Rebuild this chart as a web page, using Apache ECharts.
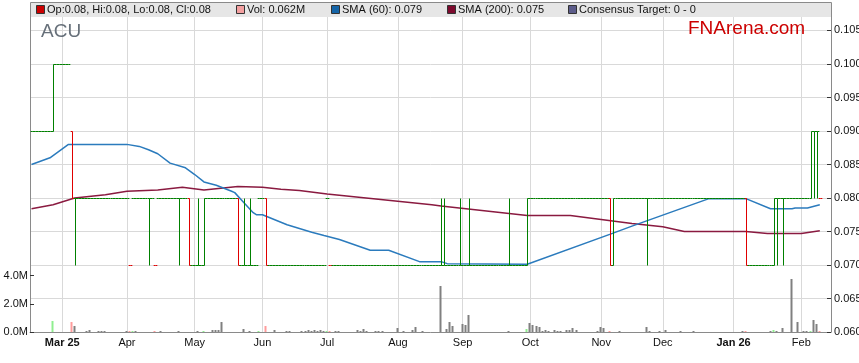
<!DOCTYPE html>
<html><head><meta charset="utf-8">
<script src="https://cdn.jsdelivr.net/npm/echarts@6/dist/echarts.min.js"></script>
<style>html,body{margin:0;padding:0;background:#fff}#c{width:859px;height:363px}</style>
</head><body><div id="c"></div>
<script>
// ---------- DATA ----------
// trading-day calendar (weekdays) starting Mon 17 Feb 2025
const firstDay = [2025, 1, 17];
const dayCount = 260;
const dates = [];
(function () {
  const d = new Date(Date.UTC(firstDay[0], firstDay[1], firstDay[2]));
  while (dates.length < dayCount) {
    const w = d.getUTCDay();
    if (w > 0 && w < 6) dates.push(d.toISOString().slice(0, 10));
    d.setUTCDate(d.getUTCDate() + 1);
  }
})();

const monthLabels = ['Mar 25', 'Apr', 'May', 'Jun', 'Jul', 'Aug', 'Sep', 'Oct', 'Nov', 'Dec', 'Jan 26', 'Feb'];
const boldLabels = ['Mar 25', 'Jan 26'];
const priceTicks = [0.060, 0.065, 0.070, 0.075, 0.080, 0.085, 0.090, 0.095, 0.100, 0.105];
const volTicks = [0, 2e6, 4e6];

// daily prices in cents (index = trading day)
const openCents = [
  9,9,9,9,9,9,9,9,10,10, 10,10,10,9,8,8,8,8,8,8, 8,8,8,8,8,8,8,8,8,8,
  8,8,7,8,8,8,8,8,8,8, 7,8,8,8,8,8,8,8,8,8, 8,8,7,7,7,7,7,8,8,8,
  8,8,8,8,8,8,8,8,7,7, 7,7,7,7,8,8,8,7,7,7, 7,7,7,7,7,7,7,7,7,7,
  7,7,7,7,7,7,8,7,7,7, 7,7,7,7,7,7,7,7,7,7, 7,7,7,7,7,7,7,7,7,7,
  7,7,7,7,7,7,7,7,7,7, 7,7,7,7,7,7,7,7,7,7, 7,7,7,7,7,7,7,7,7,7,
  7,7,7,7,7,7,7,7,7,7, 7,7,8,8,8,8,8,8,8,8, 8,8,8,8,8,8,8,8,8,8,
  8,8,8,8,8,8,8,8,8,7, 8,8,8,8,8,8,8,8,8,8, 8,8,8,8,8,8,8,8,8,8,
  8,8,8,8,8,8,8,8,8,8, 8,8,8,8,8,8,8,8,8,8, 8,8,8,7,7,7,7,7,7,7,
  7,7,8,8,8,8,8,8,8,8, 8,8,8,8,9,9,8
];
const highCents = [
  9,9,9,9,9,9,9,10,10,10, 10,10,10,9,8,8,8,8,8,8, 8,8,8,8,8,8,8,8,8,8,
  8,8,7,8,8,8,8,8,8,8, 7,8,8,8,8,8,8,8,8,8, 8,8,7,7,8,7,8,8,8,8,
  8,8,8,8,8,8,8,8,7,8, 7,8,7,7,8,8,8,7,7,7, 7,7,7,7,7,7,7,7,7,7,
  7,7,7,7,7,7,8,7,7,7, 7,7,7,7,7,7,7,7,7,7, 7,7,7,7,7,7,7,7,7,7,
  7,7,7,7,7,7,7,7,7,7, 7,7,7,8,8,7,7,7,7,8, 7,7,8,7,7,7,7,7,7,7,
  7,7,7,7,7,8,7,7,7,7, 7,8,8,8,8,8,8,8,8,8, 8,8,8,8,8,8,8,8,8,8,
  8,8,8,8,8,8,8,8,8,8, 8,8,8,8,8,8,8,8,8,8, 8,8,8,8,8,8,8,8,8,8,
  8,8,8,8,8,8,8,8,8,8, 8,8,8,8,8,8,8,8,8,8, 8,8,8,7,7,7,7,7,7,7,
  7,8,8,8,8,8,8,8,8,8, 8,8,8,9,9,9,8
];
const lowCents = [
  9,9,9,9,9,9,9,9,10,10, 10,10,10,8,7,8,8,8,8,8, 8,8,8,8,8,8,8,8,8,8,
  8,8,7,8,8,8,8,8,7,8, 7,8,8,8,8,8,8,8,7,8, 8,7,7,7,7,7,7,8,8,8,
  8,8,8,8,8,8,8,7,7,7, 7,7,7,7,8,8,7,7,7,7, 7,7,7,7,7,7,7,7,7,7,
  7,7,7,7,7,7,8,7,7,7, 7,7,7,7,7,7,7,7,7,7, 7,7,7,7,7,7,7,7,7,7,
  7,7,7,7,7,7,7,7,7,7, 7,7,7,7,7,7,7,7,7,7, 7,7,7,7,7,7,7,7,7,7,
  7,7,7,7,7,7,7,7,7,7, 7,7,8,8,8,8,8,8,8,8, 8,8,8,8,8,8,8,8,8,8,
  8,8,8,8,8,8,8,8,7,7, 8,8,8,8,8,8,8,8,8,8, 7,8,8,8,8,8,8,8,8,8,
  8,8,8,8,8,8,8,8,8,8, 8,8,8,8,8,8,8,8,8,8, 8,8,7,7,7,7,7,7,7,7,
  7,7,7,8,7,8,8,8,8,8, 8,8,8,8,8,8,8
];
const closeCents = [
  9,9,9,9,9,9,9,10,10,10, 10,10,10,8,8,8,8,8,8,8, 8,8,8,8,8,8,8,8,8,8,
  8,8,7,8,8,8,8,8,8,8, 7,8,8,8,8,8,8,8,8,8, 8,7,7,7,7,7,8,8,8,8,
  8,8,8,8,8,8,8,7,7,7, 7,7,7,7,8,8,7,7,7,7, 7,7,7,7,7,7,7,7,7,7,
  7,7,7,7,7,7,8,7,7,7, 7,7,7,7,7,7,7,7,7,7, 7,7,7,7,7,7,7,7,7,7,
  7,7,7,7,7,7,7,7,7,7, 7,7,7,7,7,7,7,7,7,7, 7,7,7,7,7,7,7,7,7,7,
  7,7,7,7,7,7,7,7,7,7, 7,8,8,8,8,8,8,8,8,8, 8,8,8,8,8,8,8,8,8,8,
  8,8,8,8,8,8,8,8,7,8, 8,8,8,8,8,8,8,8,8,8, 8,8,8,8,8,8,8,8,8,8,
  8,8,8,8,8,8,8,8,8,8, 8,8,8,8,8,8,8,8,8,8, 8,8,7,7,7,7,7,7,7,7,
  7,8,8,8,8,8,8,8,8,8, 8,8,8,9,9,9,8
];

// volume (millions of shares) on traded days
const volDay = [7,13,14,18,19,22,23,24,31,32,33,34,40,42,48,54,56,59,60,61,62,69,71,74,76,79,83,84,
  88,89,90,91,92,93,94,95,96,97,99,100,106,107,108,109,112,113,114,119,121,124,125,127,
  133,135,136,137,140,141,142,155,161,162,163,164,165,166,167,168,170,171,172,174,175,176,177,
  184,185,186,188,191,200,201,204,206,211,215,231,232,240,241,242,244,247,249,251,252,253,254,255,256];
const volM = [0.80,0.74,0.44,0.08,0.16,0.08,0.08,0.08,0.06,0.05,0.06,0.07,0.06,0.06,0.05,0.07,0.07,0.12,0.14,0.17,0.74,0.22,0.07,0.05,0.44,0.14,0.06,0.06,
  0.07,0.08,0.12,0.10,0.12,0.09,0.12,0.08,0.03,0.05,0.09,0.07,0.14,0.09,0.22,0.08,0.10,0.07,0.10,0.27,0.05,0.14,0.36,0.06,
  3.29,0.22,0.73,0.45,0.60,0.50,1.21,0.04,0.22,0.66,0.50,0.45,0.32,0.10,0.15,0.09,0.15,0.09,0.08,0.14,0.14,0.29,0.12,
  0.07,0.37,0.28,0.05,0.05,0.38,0.06,0.06,0.16,0.05,0.05,0.05,0.05,0.06,0.16,0.06,0.28,3.78,0.73,0.06,0.06,0.02,0.86,0.57,0.062];

// moving averages read at turning points (trading-day index, value)
const sma60Day = [0,6,12,31,35,38,41,45,50,53,56,60,65,66,69,72,73,75,83,91,95,100,110,116,126,133,135,161,188,195,220,232,240,247,248,252,256];
const sma60Val = [0.0850,0.0860,0.0880,0.0880,0.0877,0.0872,0.0866,0.0852,0.0845,0.0835,0.0824,0.0819,0.0810,0.0808,0.0793,0.0778,0.0775,0.0775,0.0760,0.0749,0.0744,0.0738,0.0722,0.0722,0.0705,0.0705,0.0702,0.0701,0.0746,0.0758,0.0799,0.0799,0.0784,0.0784,0.0785,0.0785,0.0790];
const sma200Day = [0,7,14,24,31,41,49,56,67,75,81,87,96,130,133,161,175,185,195,205,212,232,239,250,256];
const sma200Val = [0.0784,0.0790,0.0800,0.0805,0.0810,0.0812,0.0816,0.0812,0.0817,0.0816,0.0813,0.0811,0.0806,0.0790,0.0788,0.0774,0.0774,0.0768,0.0762,0.0757,0.0750,0.0750,0.0747,0.0747,0.0751];

const legendItems = ['Op:0.08, Hi:0.08, Lo:0.08, Cl:0.08', 'Vol: 0.062M', 'SMA (60): 0.079', 'SMA (200): 0.075', 'Consensus Target: 0 - 0'];
const legendColors = ['#cc0000', '#f4a0a0', '#1565a8', '#7d0a2e', '#5c5c8a'];
const legendX = [36, 236, 331, 447, 568];
const tickerName = 'ACU';
const brandName = 'FNArena.com';

// ---------- BUILD ----------
const FONT = "'Liberation Sans', Arial, sans-serif";
const toPrice = a => a.map(v => v / 100);
const open = toPrice(openCents), high = toPrice(highCents), low = toPrice(lowCents), close = toPrice(closeCents);
const dir = close.map((c, i) => i === 0 ? 0 : (c > close[i - 1] ? 1 : (c < close[i - 1] ? -1 : 0)));
const ohlcData = close.map((c, i) => [i, open[i], high[i], low[i], c, dir[i] < 0 ? 0 : 1]);
const volData = volDay.map((d, k) => [d, volM[k] * 1e6, dir[d]]);
const volColors = { '1': '#90ee90', '-1': '#ff9c9c', '0': '#808080' };
const sma60Data = sma60Day.map((d, k) => [d, sma60Val[k]]);
const sma200Data = sma200Day.map((d, k) => [d, sma200Val[k]]);

const monthIdx = [];
for (let i = 1; i < dates.length; i++) {
  if (dates[i].slice(5, 7) !== dates[i - 1].slice(5, 7)) monthIdx.push(i);
}

function renderOHLC(params, api) {
  const i = api.value(0);
  const pO = api.coord([i, api.value(1)]);
  const pH = api.coord([i, api.value(2)]);
  const pL = api.coord([i, api.value(3)]);
  const pC = api.coord([i, api.value(4)]);
  const half = api.size([1, 0])[0] / 2 + 0.3;
  const color = api.value(5) ? '#008000' : '#e00000';
  const x = Math.round(pO[0]) + 0.5;
  const yO = Math.round(pO[1]) + 0.5, yC = Math.round(pC[1]) + 0.5;
  const yH = Math.round(pH[1]) + 0.5, yL = Math.round(pL[1]) + 0.5;
  const style = { stroke: color, lineWidth: 1, fill: null };
  const children = [
    { type: 'line', shape: { x1: x - half, y1: yO, x2: x, y2: yO }, style },
    { type: 'line', shape: { x1: x, y1: yC, x2: x + half, y2: yC }, style }
  ];
  if (yH !== yL) children.push({ type: 'line', shape: { x1: x, y1: yH, x2: x, y2: yL }, style });
  return { type: 'group', children };
}

function renderVol(params, api) {
  const p = api.coord([api.value(0), api.value(1)]);
  const p0 = api.coord([api.value(0), 0]);
  const top = Math.round(p[1]);
  const base = Math.round(p0[1]);
  return {
    type: 'rect',
    shape: { x: Math.round(p[0]) - 1.5, y: Math.min(top, base - 1), width: 2, height: Math.max(1, base - top) },
    style: { fill: volColors[String(api.value(2))] }
  };
}

const graphics = [
  { type: 'rect', silent: true, shape: { x: 30, y: 3, width: 802, height: 14 }, style: { fill: '#e6e6e6' }, z: 0 },
  { type: 'polyline', silent: true, shape: { points: [[30.5, 17], [30.5, 2.5], [831.5, 2.5], [831.5, 17]] }, style: { stroke: '#8a8a8a', lineWidth: 1, fill: null }, z: 1 },
  { type: 'text', left: 41, top: 22, z: 100, style: { text: tickerName, fill: '#67707a', font: "19px " + FONT } },
  { type: 'text', left: 688, top: 19, z: 100, style: { text: brandName, fill: '#cc0000', font: "19px " + FONT } }
];
legendItems.forEach((t, k) => {
  graphics.push({ type: 'rect', shape: { x: legendX[k] + 0.5, y: 5.5, width: 8, height: 8 }, style: { fill: legendColors[k], stroke: '#333', lineWidth: 1 }, z: 2 });
  graphics.push({ type: 'text', x: legendX[k] + 11, y: 10, style: { text: t, fill: '#111', font: "11px " + FONT, textVerticalAlign: 'middle', verticalAlign: 'middle' }, z: 2 });
});

const chart = echarts.init(document.getElementById('c'), null, { renderer: 'canvas' });
chart.setOption({
  animation: false,
  backgroundColor: '#fff',
  grid: { left: 30, right: 28, top: 17, bottom: 31, containLabel: false, outerBoundsMode: 'none' },
  xAxis: {
    type: 'value', min: -0.49, max: 259.64,
    axisLine: { show: true, onZero: false, lineStyle: { color: '#8a8a8a' } },
    axisTick: { show: false, customValues: monthIdx },
    axisLabel: {
      customValues: monthIdx, margin: 5, color: '#111', fontSize: 11, fontFamily: FONT, hideOverlap: false,
      formatter: v => { const t = monthLabels[monthIdx.indexOf(Math.round(v))] || ''; return boldLabels.includes(t) ? '{b|' + t + '}' : t; },
      rich: { b: { fontWeight: 'bold', fontSize: 11, fontFamily: FONT, color: '#111' } }
    },
    splitLine: { show: true, lineStyle: { color: '#d9d9d9', width: 1 } }
  },
  yAxis: [
    {
      type: 'value', position: 'right', min: 0.06, max: 0.10701,
      axisLine: { show: true, onZero: false, lineStyle: { color: '#8a8a8a' } },
      axisTick: { show: true, inside: true, length: 4, customValues: priceTicks, lineStyle: { color: '#333' } },
      axisLabel: { customValues: priceTicks, margin: 3, color: '#111', fontSize: 11, fontFamily: FONT, formatter: v => v.toFixed(3), showMaxLabel: true },
      splitLine: { show: true, lineStyle: { color: '#d9d9d9', width: 1 } }
    },
    {
      type: 'value', position: 'left', min: 0, max: 22.34e6,
      axisLine: { show: true, onZero: false, lineStyle: { color: '#8a8a8a' } },
      axisTick: { show: true, inside: true, length: 4, customValues: volTicks, lineStyle: { color: '#333' } },
      axisLabel: { customValues: volTicks, margin: 2, color: '#111', fontSize: 11, fontFamily: FONT, formatter: v => (v / 1e6).toFixed(1) + 'M' },
      splitLine: { show: false }
    }
  ],
  graphic: graphics,
  series: [
    { name: 'Vol', type: 'custom', xAxisIndex: 0, yAxisIndex: 1, renderItem: renderVol, data: volData, encode: { x: 0, y: 1 }, z: 1, clip: true },
    { name: 'SMA (200)', type: 'line', yAxisIndex: 0, data: sma200Data, showSymbol: false, symbol: 'none', lineStyle: { color: '#8a1a40', width: 1.5 }, z: 3 },
    { name: 'SMA (60)', type: 'line', yAxisIndex: 0, data: sma60Data, showSymbol: false, symbol: 'none', lineStyle: { color: '#2b7bbd', width: 1.5 }, z: 3 },
    { name: 'OHLC', type: 'custom', yAxisIndex: 0, renderItem: renderOHLC, data: ohlcData, encode: { x: 0, y: [1, 2, 3, 4] }, z: 4, clip: true }
  ]
});
</script></body></html>
